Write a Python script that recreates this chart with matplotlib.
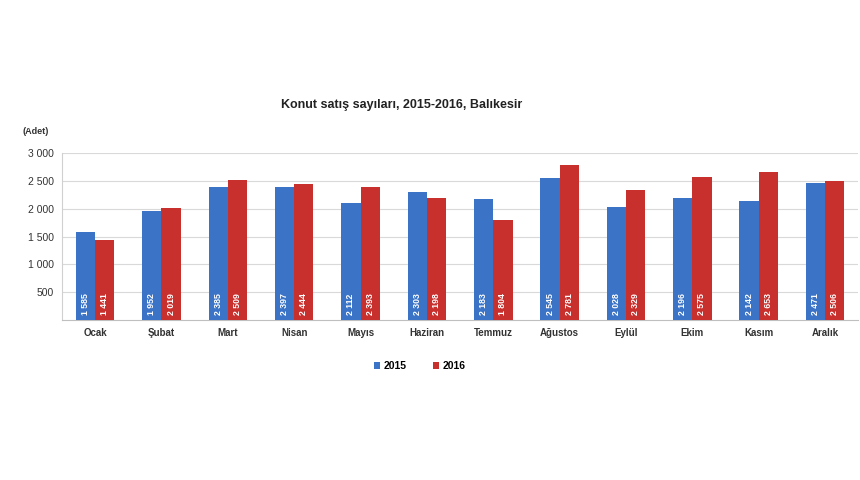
import numpy as np
import matplotlib
matplotlib.use("Agg")
import matplotlib.pyplot as plt

plt.rcParams['font.family'] = ['Liberation Sans', 'DejaVu Sans']

aylar = ["Ocak", "Şubat", "Mart", "Nisan", "Mayıs", "Haziran", "Temmuz",
         "Ağustos", "Eylül", "Ekim", "Kasım", "Aralık"]
satis_2015 = [1585, 1952, 2385, 2397, 2112, 2303, 2183, 2545, 2028, 2196, 2142, 2471]
satis_2016 = [1441, 2019, 2509, 2444, 2393, 2198, 1804, 2781, 2329, 2575, 2653, 2506]
y_ticks = [500, 1000, 1500, 2000, 2500, 3000]

mavi = '#3b73c6'
kirmizi = '#c8302e'


def bosluklu(v):
    return f"{v:,}".replace(",", " ")


fig = plt.figure(figsize=(8.6, 4.8), dpi=100)
ax = fig.add_axes([0.072, 0.333, 0.926, 0.348])

x = np.arange(len(aylar))
w = 0.29
b1 = ax.bar(x - w / 2, satis_2015, w, color=mavi, label="2015", zorder=3)
b2 = ax.bar(x + w / 2, satis_2016, w, color=kirmizi, label="2016", zorder=3)

for xi, v in zip(x - w / 2, satis_2015):
    ax.text(xi, 90, bosluklu(v), rotation=90, ha='center', va='bottom',
            color='white', fontsize=6.3, fontweight='bold', zorder=4)
for xi, v in zip(x + w / 2, satis_2016):
    ax.text(xi, 90, bosluklu(v), rotation=90, ha='center', va='bottom',
            color='white', fontsize=6.3, fontweight='bold', zorder=4)

ax.set_xlim(-0.5, len(aylar) - 0.5)
ax.set_ylim(0, 3000)
ax.set_yticks(y_ticks)
ax.set_yticklabels([bosluklu(v) for v in y_ticks], fontsize=7.5, color='#333333')
ax.set_xticks(x)
ax.set_xticklabels(aylar, fontsize=7, fontweight='bold', color='#333333')
ax.tick_params(axis='both', length=0, pad=6)
ax.grid(axis='y', color='#d9d9d9', linewidth=0.8, zorder=0)
for s in ['top', 'right']:
    ax.spines[s].set_visible(False)
ax.spines['left'].set_color('#d0d0d0')
ax.spines['bottom'].set_color('#bfbfbf')

fig.text(0.467, 0.781, "Konut satış sayıları, 2015-2016, Balıkesir",
         ha='center', va='center', fontsize=9, fontweight='bold', color='#222222')
fig.text(0.041, 0.725, "(Adet)", ha='center', va='center', fontsize=6.5,
         fontweight='bold', color='#333333')

fig.legend(handles=[b1, b2], loc='center', bbox_to_anchor=(0.488, 0.237), ncol=2,
           frameon=False, handlelength=0.6, handleheight=0.6,
           columnspacing=2.6, handletextpad=0.3,
           prop={'weight': 'bold', 'size': 7.5})

fig.savefig("out.png", dpi=100)
